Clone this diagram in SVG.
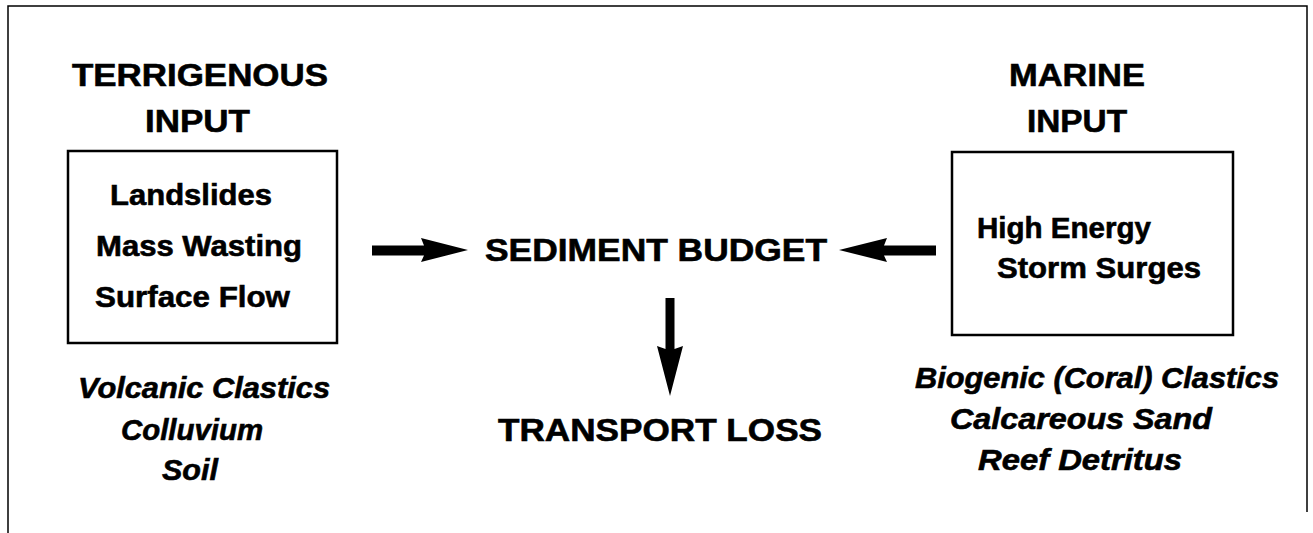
<svg xmlns="http://www.w3.org/2000/svg" width="1313" height="533" viewBox="0 0 1313 533">
<style>
text{font-family:"Liberation Sans",Arial,sans-serif;font-weight:bold;fill:#000;stroke:#000;stroke-width:0.6}
.h{font-size:32px}
.b{font-size:29px}
.i{font-size:29px;font-style:italic}
.m{font-size:31px}
.box{fill:none;stroke:#000;stroke-width:2.5}
.frame{fill:none;stroke:#000;stroke-width:1.5}
</style>
<rect width="1313" height="533" fill="#fff"/>
<path class="frame" d="M8,533 V6 H1307 V512"/>
<g id="terrigenous">
<text class="h" x="72" y="86" textLength="256" lengthAdjust="spacingAndGlyphs">TERRIGENOUS</text>
<text class="h" x="145" y="131.5" textLength="105" lengthAdjust="spacingAndGlyphs">INPUT</text>
<rect class="box" x="68" y="151" width="269" height="192"/>
<text class="b" x="110" y="205" textLength="162" lengthAdjust="spacingAndGlyphs">Landslides</text>
<text class="b" x="96" y="255.5" textLength="206" lengthAdjust="spacingAndGlyphs">Mass Wasting</text>
<text class="b" x="95" y="307" textLength="195" lengthAdjust="spacingAndGlyphs">Surface Flow</text>
<text class="i" x="78" y="398" textLength="252" lengthAdjust="spacingAndGlyphs">Volcanic Clastics</text>
<text class="i" x="121" y="440" textLength="142" lengthAdjust="spacingAndGlyphs">Colluvium</text>
<text class="i" x="162" y="480" textLength="56" lengthAdjust="spacingAndGlyphs">Soil</text>
</g>
<g id="budget">
<text class="m" x="485" y="261" textLength="342" lengthAdjust="spacingAndGlyphs">SEDIMENT BUDGET</text>
</g>
<g id="loss">
<text class="m" x="498" y="441" textLength="324" lengthAdjust="spacingAndGlyphs">TRANSPORT LOSS</text>
</g>
<g id="marine">
<text class="h" x="1009" y="86" textLength="136" lengthAdjust="spacingAndGlyphs">MARINE</text>
<text class="h" x="1027" y="131.5" textLength="100" lengthAdjust="spacingAndGlyphs">INPUT</text>
<rect class="box" x="952" y="152" width="281" height="183"/>
<text class="b" x="977" y="238" textLength="174" lengthAdjust="spacingAndGlyphs">High Energy</text>
<text class="b" x="997" y="278" textLength="204" lengthAdjust="spacingAndGlyphs">Storm Surges</text>
<text class="i" x="915" y="387.5" textLength="364" lengthAdjust="spacingAndGlyphs">Biogenic (Coral) Clastics</text>
<text class="i" x="950" y="428.5" textLength="262" lengthAdjust="spacingAndGlyphs">Calcareous Sand</text>
<text class="i" x="978" y="469.5" textLength="204" lengthAdjust="spacingAndGlyphs">Reef Detritus</text>
</g>
<g id="connectors" fill="#000">
<polygon points="372,245.5 424,245.5 421,238 468,250 421,262 424,255.5 372,255.5"/>
<polygon points="936,245.5 884,245.5 887,238 839,250 887,262 884,255.5 936,255.5"/>
<polygon points="665.5,298 674.5,298 674.5,349 683,346 670,396 657,346 665.5,349"/>
</g>
</svg>
